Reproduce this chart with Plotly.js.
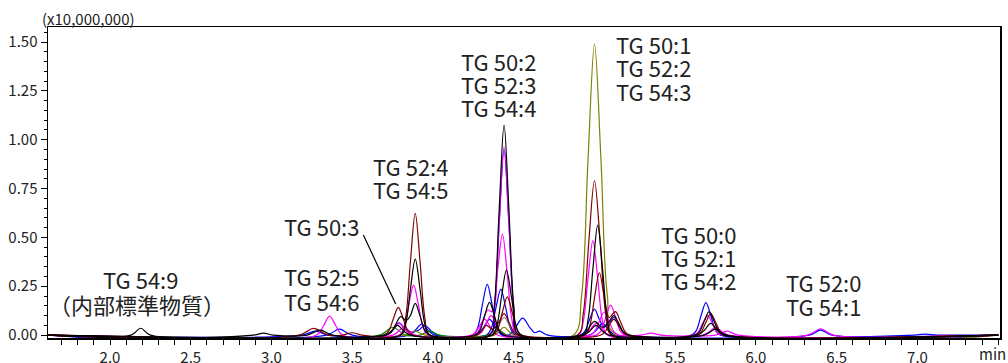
<!DOCTYPE html>
<html>
<head>
<meta charset="utf-8">
<script src="https://cdn.plot.ly/plotly-3.0.1.min.js"></script>
<style>html,body{margin:0;padding:0;background:#fff;}#chart{width:1008px;height:363px;}</style>
</head>
<body>
<div id="chart"></div>
<script>
// Retention time (min) and intensity (x10,000,000)
const black1T = [1.6, 2.13,2.19,2.25, 2.89,2.95,3.01, 3.22,3.30,3.38, 3.80,3.83,3.86,3.89,3.92,3.95,3.98, 4.35,4.38,4.41,4.44,4.47,4.50,4.53, 4.93,4.96,4.99,5.02,5.05,5.08,5.11, 5.62,5.65,5.68,5.71,5.74,5.77,5.80, 7.5];
const black1V = [0, 0,0.035,0, 0,0.01,0, 0,0.025,0, 0,0.054,0.233,0.389,0.233,0.054,0, 0,0.15,0.645,1.075,0.645,0.15,0, 0,0.079,0.338,0.563,0.338,0.079,0, 0,0.017,0.072,0.12,0.072,0.017,0, 0];
const black2T = [1.6, 3.71,3.74,3.77,3.80,3.835,3.86,3.89,3.92,3.95,3.98, 4.365,4.395,4.425,4.455,4.485,4.515,4.545, 4.92,4.96,5.00,5.05,5.09,5.12,5.15,5.18,5.21, 5.64,5.68,5.72,5.76,5.80, 7.5];
const black2V = [0, 0,0.013,0.056,0.094,0.075,0.1,0.162,0.097,0.023,0, 0,0.047,0.2,0.333,0.2,0.047,0, 0,0.03,0.07,0.04,0.07,0.1,0.06,0.014,0, 0,0.025,0.06,0.025,0, 0];
const black3T = [1.6, 3.70,3.74,3.78,3.82,3.86, 4.26,4.29,4.32,4.35,4.38,4.41,4.44, 4.93,4.97,5.01,5.05,5.09, 5.68,5.75,5.82, 7.5];
const black3V = [0, 0,0.02,0.05,0.02,0, 0,0.023,0.1,0.167,0.1,0.023,0, 0,0.02,0.05,0.02,0, 0,0.03,0, 0];
const red1T = [1.6, 3.17,3.26,3.35, 3.44,3.50,3.56, 3.80,3.83,3.86,3.89,3.92,3.95,3.98, 4.895,4.93,4.965,5.00,5.035,5.07,5.105, 5.63,5.66,5.69,5.72,5.75,5.78,5.81, 7.5];
const red1V = [0, 0,0.034,0, 0,0.012,0, 0,0.087,0.374,0.623,0.374,0.087,0, 0,0.107,0.48,0.79,0.48,0.107,0, 0,0.015,0.066,0.11,0.066,0.015,0, 0];
const red2T = [1.6, 3.695,3.725,3.755,3.785,3.815,3.845,3.875, 4.37,4.40,4.43,4.46,4.49,4.52,4.55, 4.94,4.97,5.00,5.03,5.06,5.09,5.13,5.16,5.19,5.22, 7.5];
const red2V = [0, 0,0.02,0.085,0.142,0.085,0.02,0, 0,0.027,0.118,0.196,0.118,0.027,0, 0,0.045,0.19,0.319,0.2,0.09,0.12,0.07,0.017,0, 0];
const red3T = [1.6, 4.27,4.30,4.33,4.37,4.41,4.44,4.47,4.50,4.53, 5.04,5.08,5.12,5.16,5.20, 7.5];
const red3V = [0, 0,0.02,0.05,0.03,0.07,0.11,0.066,0.015,0, 0,0.035,0.08,0.035,0, 0];
const mag1T = [1.6, 3.28,3.32,3.36,3.40,3.44, 3.79,3.82,3.85,3.88,3.91,3.94,3.97, 4.35,4.38,4.41,4.44,4.47,4.50,4.53, 4.90,4.93,4.96,4.99,5.02,5.05,5.08, 5.61,5.64,5.67,5.70,5.73,5.76,5.79, 6.32,6.40,6.48, 7.5];
const mag1V = [0, 0,0.045,0.097,0.045,0, 0,0.036,0.154,0.256,0.154,0.036,0, 0,0.135,0.578,0.964,0.578,0.135,0, 0,0.068,0.29,0.483,0.29,0.068,0, 0,0.014,0.06,0.1,0.06,0.014,0, 0,0.032,0, 0];
const mag2T = [1.6, 4.25,4.28,4.31,4.34,4.37,4.40,4.43,4.46,4.49,4.52, 4.97,5.00,5.03,5.06,5.09,5.12,5.15, 5.29,5.35,5.41, 5.75,5.82,5.89, 7.5];
const mag2V = [0, 0,0.018,0.077,0.128,0.12,0.33,0.517,0.31,0.072,0, 0,0.017,0.071,0.118,0.071,0.017,0, 0,0.01,0, 0,0.02,0, 0];
const mag3T = [1.6, 3.71,3.75,3.79,3.83,3.87, 4.27,4.30,4.33,4.36,4.39,4.42,4.45, 5.01,5.04,5.07,5.10,5.13,5.16,5.19, 5.67,5.71,5.75,5.79,5.83, 7.5];
const mag3V = [0, 0,0.025,0.06,0.025,0, 0,0.014,0.06,0.1,0.06,0.014,0, 0,0.021,0.092,0.153,0.092,0.021,0, 0,0.017,0.04,0.017,0, 0];
const mag4T = [1.6, 3.75,3.82,3.89, 4.24,4.28,4.32,4.36,4.40, 4.93,4.97,5.01,5.05,5.09, 7.5];
const mag4V = [0, 0,0.04,0, 0,0.035,0.08,0.035,0, 0,0.025,0.06,0.025,0, 0];
const blue1T = [1.6, 3.34,3.42,3.50, 4.246,4.276,4.306,4.336,4.366,4.396,4.426, 5.60,5.63,5.66,5.69,5.72,5.75,5.78, 6.33,6.40,6.47, 7.5];
const blue1V = [0, 0,0.03,0, 0,0.036,0.156,0.26,0.156,0.036,0, 0,0.023,0.1,0.166,0.1,0.023,0, 0,0.025,0, 0];
const blue2T = [1.6, 3.71,3.75,3.79,3.83,3.87,3.91,3.95,3.99,4.03, 4.33,4.36,4.39,4.42,4.45,4.48,4.51, 4.91,4.94,4.97,5.00,5.03,5.06,5.09,5.12,5.15,5.18,5.21, 7.5];
const blue2V = [0, 0,0.025,0.063,0.03,0.015,0.025,0.05,0.02,0, 0,0.033,0.141,0.235,0.141,0.033,0, 0,0.019,0.08,0.133,0.08,0.04,0.06,0.09,0.054,0.013,0, 0];
const blue3T = [1.6, 3.19,3.27,3.35, 3.85,3.89,3.93,3.97,4.01, 4.27,4.31,4.35,4.39,4.43, 4.47,4.51,4.555,4.60,4.63,4.66,4.71, 4.97,5.01,5.05,5.09,5.13, 6.98,7.05,7.12, 7.3, 7.5];
const blue3V = [0, 0,0.02,0, 0,0.025,0.056,0.025,0, 0,0.035,0.08,0.035,0, 0,0.038,0.087,0.038,0.012,0.02,0, 0,0.025,0.06,0.025,0, 0,0.005,0, 0, 0];
const blue4T = [1.6, 4.35,4.38,4.41,4.44,4.47,4.50,4.53, 7.5];
const blue4V = [0, 0,0.133,0.57,0.95,0.57,0.133,0, 0];
const oliveT = [1.6, 3.83,3.89,3.95, 4.38,4.44,4.50, 4.87,4.92,4.96,5.00,5.04,5.08,5.13, 7.5];
const oliveV = [0, 0,0.02,0, 0,0.04,0, 0,0.2,0.9,1.49,0.9,0.2,0, 0];
const greenT = [1.6, 3.67,3.75,3.83, 3.92,3.98,4.04, 4.34,4.40,4.46, 7.5];
const greenV = [0, 0,0.04,0, 0,0.02,0, 0,0.03,0, 0];
const grayT = [1.6, 4.37,4.40,4.44,4.48,4.52, 7.5];
const grayV = [0, 0,0.04,0.09,0.04,0, 0];

const xTickVals = [2.0, 2.5, 3.0, 3.5, 4.0, 4.5, 5.0, 5.5, 6.0, 6.5, 7.0];
const xTickText = ['2.0','2.5','3.0','3.5','4.0','4.5','5.0','5.5','6.0','6.5','7.0'];
const yTickVals = [0, 0.25, 0.5, 0.75, 1.0, 1.25, 1.5];
const yTickText = ['0.00','0.25','0.50','0.75','1.00','1.25','1.50'];

const C = {black:'#000000', red:'#800000', mag:'#ff00ff', blue:'#0000ff', olive:'#808000', green:'#008000', gray:'#808080'};
const series = [
  [blue4T, blue4V, C.blue], [blue3T, blue3V, C.blue], [blue2T, blue2V, C.blue], [blue1T, blue1V, C.blue],
  [grayT, grayV, C.gray], [greenT, greenV, C.green], [oliveT, oliveV, C.olive],
  [mag4T, mag4V, C.mag], [mag3T, mag3V, C.mag], [mag2T, mag2V, C.mag], [mag1T, mag1V, C.mag],
  [red3T, red3V, C.red], [red2T, red2V, C.red], [red1T, red1V, C.red],
  [black3T, black3V, C.black], [black2T, black2V, C.black], [black1T, black1V, C.black]
];
const traces = series.map(s => ({
  x: s[0], y: s[1], type: 'scatter', mode: 'lines',
  line: {color: s[2], width: 1.2, shape: 'spline', smoothing: 1},
  hoverinfo: 'skip'
}));

const FONT = 'Noto Sans CJK JP, Noto Sans, sans-serif';
const labelFont = {family: FONT, size: 22, color: '#222222'};
function lab(text, x, y) {
  return {text: text, x: x, y: y, xref: 'x', yref: 'y', showarrow: false,
          xanchor: 'center', yanchor: 'middle', font: labelFont};
}
const annotations = [
  lab('TG 54:9', 2.186, 0.288),
  lab('（内部標準物質）', 2.167, 0.158),
  lab('TG 52:5', 3.307, 0.3035),
  lab('TG 54:6', 3.307, 0.1755),
  lab('TG 50:3', 3.307, 0.5595),
  lab('TG 52:4', 3.858, 0.867),
  lab('TG 54:5', 3.858, 0.747),
  lab('TG 50:2', 4.406, 1.404),
  lab('TG 52:3', 4.406, 1.285),
  lab('TG 54:4', 4.406, 1.166),
  lab('TG 50:1', 5.368, 1.490),
  lab('TG 52:2', 5.368, 1.371),
  lab('TG 54:3', 5.368, 1.251),
  lab('TG 50:0', 5.647, 0.517),
  lab('TG 52:1', 5.647, 0.399),
  lab('TG 54:2', 5.647, 0.2815),
  lab('TG 52:0', 6.421, 0.271),
  lab('TG 54:1', 6.421, 0.150),
  {text: '(x10,000,000)', xref: 'paper', yref: 'paper', x: 0.043, y: 1.026, xanchor: 'center', yanchor: 'middle',
   showarrow: false, font: {family: FONT, size: 15, color: '#222222'}},
  {text: 'min', xref: 'paper', yref: 'paper', x: 0.9925, y: -0.05, xanchor: 'center', yanchor: 'middle',
   showarrow: false, font: {family: FONT, size: 15, color: '#222222'}}
];

const layout = {
  width: 1008, height: 363,
  margin: {l: 48, r: 8, t: 27, b: 25, pad: 0},
  paper_bgcolor: '#ffffff', plot_bgcolor: '#ffffff',
  showlegend: false,
  font: {family: FONT, size: 15, color: '#222222'},
  xaxis: {
    range: [1.616, 7.511], showgrid: false, zeroline: false,
    showline: true, linecolor: '#000', linewidth: 1.5, mirror: true,
    ticks: 'outside', ticklen: 5, tickwidth: 1, tickcolor: '#000',
    tickmode: 'array', tickvals: xTickVals, ticktext: xTickText,
    tickfont: {family: FONT, size: 15, color: '#222222'},
    minor: {tickmode: 'linear', tick0: 0, dtick: 0.1, ticks: 'outside', ticklen: 5, tickwidth: 1, tickcolor: '#000', showgrid: false}
  },
  yaxis: {
    range: [-0.015, 1.577], showgrid: false, zeroline: false,
    showline: true, linecolor: '#000', linewidth: 1.5, mirror: true,
    ticks: 'outside', ticklen: 6, tickwidth: 1, tickcolor: '#000',
    tickmode: 'array', tickvals: yTickVals, ticktext: yTickText,
    tickfont: {family: FONT, size: 15, color: '#222222'},
    minor: {tickmode: 'linear', tick0: 0, dtick: 0.05, ticks: 'outside', ticklen: 3, tickwidth: 1, tickcolor: '#000', showgrid: false}
  },
  shapes: [
    {type: 'line', xref: 'x', yref: 'y', x0: 3.569, y0: 0.512, x1: 3.769, y1: 0.159,
     line: {color: '#000', width: 1.2}}
  ],
  annotations: annotations
};

Plotly.newPlot('chart', traces, layout, {displayModeBar: false, staticPlot: true});
</script>
</body>
</html>
